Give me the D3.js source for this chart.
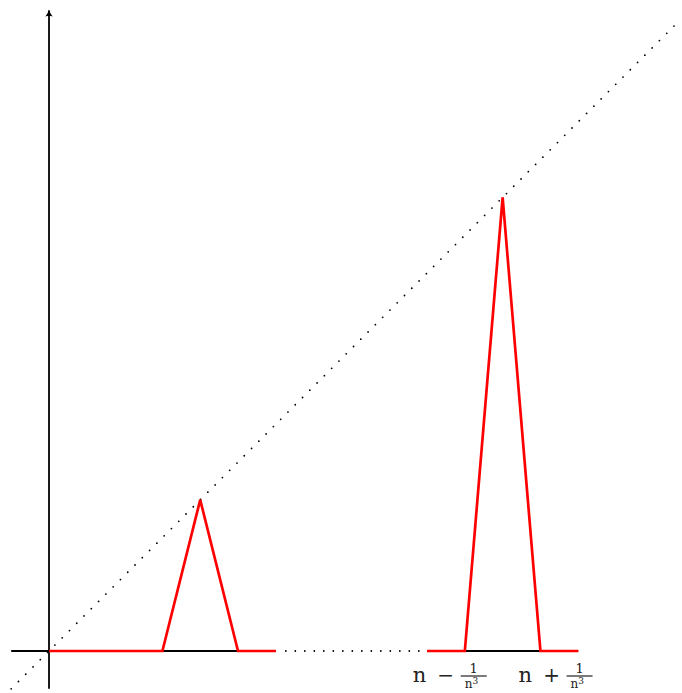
<!DOCTYPE html>
<html>
<head>
  <meta charset="utf-8">
  <script src="https://d3js.org/d3.v7.min.js"></script>
  <style>
    body { margin: 0; background: #fff; }
    .lbl { font-family: "DejaVu Serif", serif; fill: #222; }
  </style>
</head>
<body>
<script>
  // data, in plot units
  const bumpSmall = [[0, 0], [3, 0], [4, 4], [5, 0], [6, 0]];
  const bumpLarge = [[10, 0], [11, 0], [12, 12], [13, 0], [14, 0]];
  const xAxisSolid = [[-1, 6], [10, 14]];
  const xAxisGap = [6, 10];
  const yAxisSpan = [-1, 17];
  const diagonalSpan = [-1, 16.7];
  const tickLabels = [{x: 10.6, sign: "\u2212"}, {x: 13.4, sign: "+"}];

  var width = 682, height = 693;

  var svg = d3.select("body").append("svg")
    .attr("width", width)
    .attr("height", height);

  var x = d3.scaleLinear().domain([-1, 16.7]).range([11.2, 680.3]);
  var y = d3.scaleLinear().domain([-1, 17]).range([688.8, 8.4]);

  var line = d3.line().x(d => x(d[0])).y(d => y(d[1]));

  svg.append("defs").append("marker")
    .attr("id", "arrow")
    .attr("viewBox", "-6 -4 8 8")
    .attr("refX", 1).attr("refY", 0)
    .attr("markerWidth", 8).attr("markerHeight", 8)
    .attr("markerUnits", "userSpaceOnUse")
    .attr("orient", "auto")
    .append("path")
      .attr("d", "M2,0 Q-2,-1 -5,-3.6 Q-3.5,0 -5,3.6 Q-2,1 2,0Z")
      .attr("fill", "#000");

  // diagonal y = x
  svg.append("path")
    .attr("d", line(diagonalSpan.map(v => [v, v])))
    .attr("fill", "none")
    .attr("stroke", "#000")
    .attr("stroke-width", 1.8)
    .attr("stroke-linecap", "round")
    .attr("stroke-dasharray", "0 10.3");

  // x axis
  svg.selectAll(".xsolid")
    .data(xAxisSolid)
    .join("line")
      .attr("class", "xsolid")
      .attr("x1", d => x(d[0])).attr("x2", d => x(d[1]))
      .attr("y1", y(0)).attr("y2", y(0))
      .attr("stroke", "#000")
      .attr("stroke-width", 1.8);

  svg.append("line")
    .attr("x1", x(xAxisGap[0]) + 10).attr("x2", x(xAxisGap[1]))
    .attr("y1", y(0)).attr("y2", y(0))
    .attr("stroke", "#000")
    .attr("stroke-width", 1.8)
    .attr("stroke-linecap", "round")
    .attr("stroke-dasharray", "0 9.5");

  // y axis
  svg.append("line")
    .attr("x1", x(0)).attr("x2", x(0))
    .attr("y1", y(yAxisSpan[0])).attr("y2", y(yAxisSpan[1]) + 2)
    .attr("stroke", "#000")
    .attr("stroke-width", 1.8)
    .attr("marker-end", "url(#arrow)");

  // red bumps
  svg.selectAll(".bump")
    .data([bumpSmall, bumpLarge])
    .join("path")
      .attr("class", "bump")
      .attr("d", line)
      .attr("fill", "none")
      .attr("stroke", "#ff0000")
      .attr("stroke-width", 2.7)
      .attr("stroke-linejoin", "miter");

  // labels n -/+ 1/n^3
  const lbl = svg.selectAll(".tick-lbl")
    .data(tickLabels)
    .join("g")
      .attr("class", "tick-lbl lbl")
      .attr("transform", d => `translate(${x(d.x)},-3)`);

  lbl.append("text")
    .attr("x", -37).attr("y", 685)
    .style("font-size", "21px")
    .text("n");

  lbl.append("text")
    .attr("x", -4).attr("y", 685)
    .attr("text-anchor", "middle")
    .style("font-size", "20px")
    .text(d => d.sign);

  lbl.append("line")
    .attr("x1", 11).attr("x2", 37)
    .attr("y1", 679).attr("y2", 679)
    .attr("stroke", "#222")
    .attr("stroke-width", 1.2);

  lbl.append("text")
    .attr("x", 24).attr("y", 676)
    .attr("text-anchor", "middle")
    .style("font-size", "13px")
    .text("1");

  const den = lbl.append("text")
    .attr("x", 15).attr("y", 691)
    .style("font-size", "12px");
  den.append("tspan").text("n");
  den.append("tspan").attr("dy", -4).style("font-size", "9px").text("3");
</script>
</body>
</html>
